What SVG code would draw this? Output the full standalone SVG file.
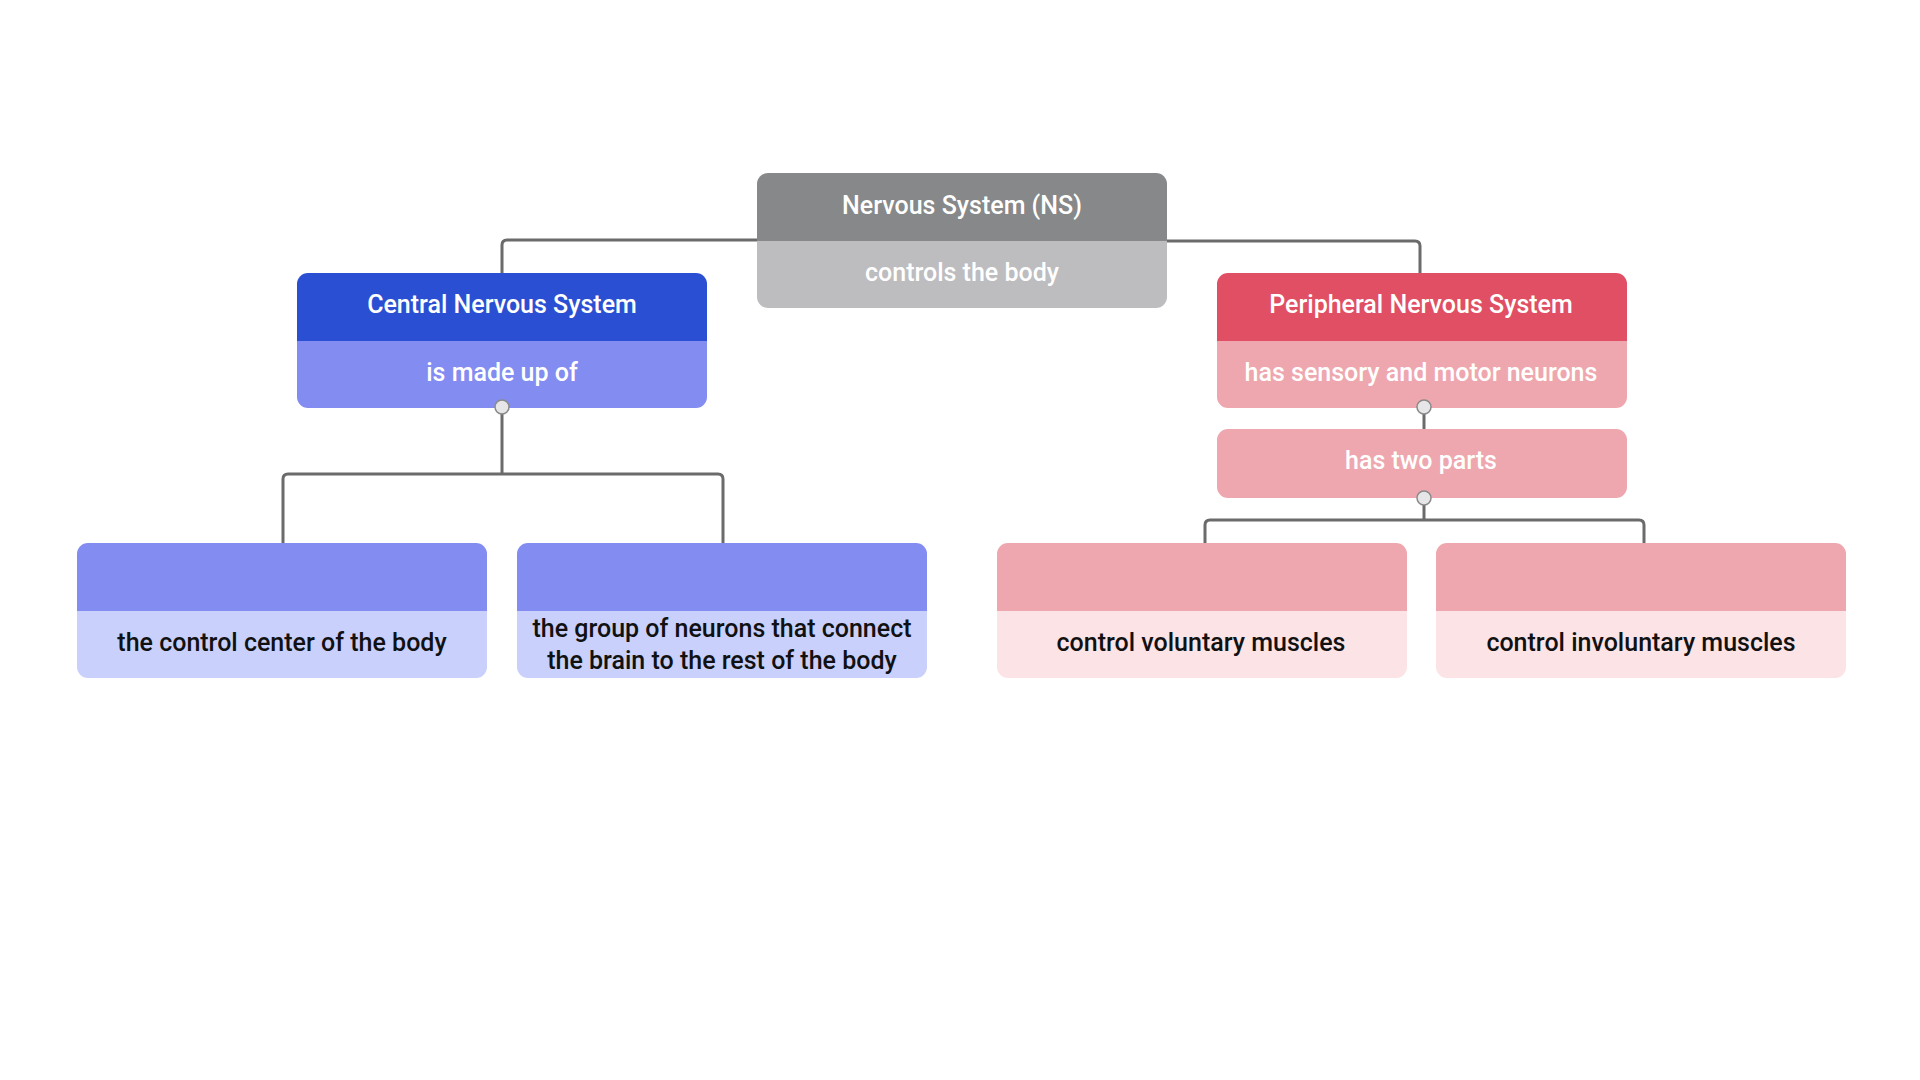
<svg xmlns="http://www.w3.org/2000/svg" width="1920" height="1080" viewBox="0 0 1920 1080">
  <style>
    text { font-family: Roboto, "Liberation Sans", sans-serif; font-size: 25px; font-weight: 500; text-anchor: middle; dominant-baseline: central; }
    .light { fill: #ffffff; }
    .dark { fill: #111111; }
    .wire { fill: none; stroke: #6b6b6b; stroke-width: 3; stroke-linejoin: round; }
    .dot { fill: #e6e6e8; stroke: #8a8a8a; stroke-width: 1.5; }
    .gray-h { fill: #878889; }
    .gray-b { fill: #bdbcbf; }
    .blue-h { fill: #2b4fd3; }
    .blue-m { fill: #838cf0; }
    .blue-b { fill: #c8d0fb; }
    .red-h { fill: #e04f63; }
    .red-m { fill: #eea7ae; }
    .red-b { fill: #fbe3e6; }
  </style>
  <defs>
    <!-- two-band card: rounded outline, top band, bottom band -->
    <clipPath id="card"><rect x="0" y="0" width="410" height="135" rx="11"/></clipPath>
  </defs>
  <rect width="1920" height="1080" fill="#ffffff"/>

  <!-- connectors -->
  <g id="connectors">
    <path class="wire" d="M757 240 H507 Q502 240 502 245 V273"/>
    <path class="wire" d="M1167 241 H1415 Q1420 241 1420 246 V273"/>
    <path class="wire" d="M502 408 V474"/>
    <path class="wire" d="M283 544 V479 Q283 474 288 474 H718 Q723 474 723 479 V544"/>
    <path class="wire" d="M1424 408 V429"/>
    <path class="wire" d="M1424 498 V520"/>
    <path class="wire" d="M1205 543 V525 Q1205 520 1210 520 H1639 Q1644 520 1644 525 V543"/>
  </g>

  <!-- Nervous System (NS) -->
  <g id="node-ns" transform="translate(757,173)">
    <g clip-path="url(#card)">
      <rect class="gray-h" x="0" y="0" width="410" height="68"/>
      <rect class="gray-b" x="0" y="68" width="410" height="67"/>
    </g>
    <text class="light" x="205" y="32">Nervous System (NS)</text>
    <text class="light" x="205" y="99">controls the body</text>
  </g>

  <!-- Central Nervous System -->
  <g id="node-cns" transform="translate(297,273)">
    <g clip-path="url(#card)">
      <rect class="blue-h" x="0" y="0" width="410" height="68"/>
      <rect class="blue-m" x="0" y="68" width="410" height="67"/>
    </g>
    <text class="light" x="205" y="31">Central Nervous System</text>
    <text class="light" x="205" y="99">is made up of</text>
  </g>

  <!-- Peripheral Nervous System -->
  <g id="node-pns" transform="translate(1217,273)">
    <g clip-path="url(#card)">
      <rect class="red-h" x="0" y="0" width="410" height="68"/>
      <rect class="red-m" x="0" y="68" width="410" height="67"/>
    </g>
    <text class="light" x="204" y="31">Peripheral Nervous System</text>
    <text class="light" x="204" y="99">has sensory and motor neurons</text>
  </g>

  <!-- has two parts -->
  <g id="node-two-parts" transform="translate(1217,429)">
    <rect class="red-m" x="0" y="0" width="410" height="69" rx="11"/>
    <text class="light" x="204" y="31">has two parts</text>
  </g>

  <!-- brain -->
  <g id="node-brain" transform="translate(77,543)">
    <g clip-path="url(#card)">
      <rect class="blue-m" x="0" y="0" width="410" height="68"/>
      <rect class="blue-b" x="0" y="68" width="410" height="67"/>
    </g>
    <text class="dark" x="205" y="99">the control center of the body</text>
  </g>

  <!-- spinal cord -->
  <g id="node-spinal" transform="translate(517,543)">
    <g clip-path="url(#card)">
      <rect class="blue-m" x="0" y="0" width="410" height="68"/>
      <rect class="blue-b" x="0" y="68" width="410" height="67"/>
    </g>
    <text class="dark" x="205" y="85">the group of neurons that connect</text>
    <text class="dark" x="205" y="117">the brain to the rest of the body</text>
  </g>

  <!-- somatic -->
  <g id="node-somatic" transform="translate(997,543)">
    <g clip-path="url(#card)">
      <rect class="red-m" x="0" y="0" width="410" height="68"/>
      <rect class="red-b" x="0" y="68" width="410" height="67"/>
    </g>
    <text class="dark" x="204" y="99">control voluntary muscles</text>
  </g>

  <!-- autonomic -->
  <g id="node-autonomic" transform="translate(1436,543)">
    <g clip-path="url(#card)">
      <rect class="red-m" x="0" y="0" width="410" height="68"/>
      <rect class="red-b" x="0" y="68" width="410" height="67"/>
    </g>
    <text class="dark" x="205" y="99">control involuntary muscles</text>
  </g>

  <!-- attachment dots -->
  <g id="ports">
    <circle class="dot" cx="502" cy="407" r="7"/>
    <circle class="dot" cx="1424" cy="407" r="7"/>
    <circle class="dot" cx="1424" cy="498" r="7"/>
  </g>
</svg>
